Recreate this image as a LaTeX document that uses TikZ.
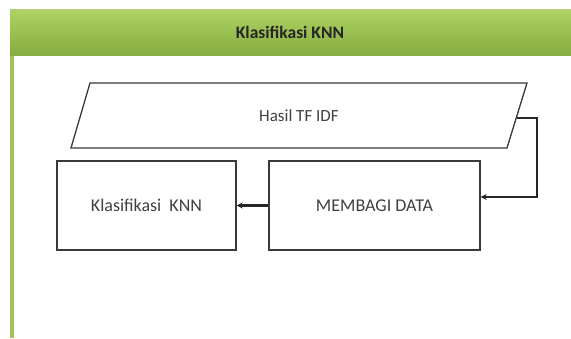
\documentclass[tikz,border=0pt]{standalone}
\usepackage{fontspec}
\setmainfont{Carlito}
\usetikzlibrary{arrows.meta,shapes.geometric}
\definecolor{gtop}{HTML}{AFD363}
\definecolor{gbot}{HTML}{86AD42}
\definecolor{gline}{HTML}{9CC458}
\definecolor{boxline}{HTML}{3A3A3A}
\tikzset{
  procbox/.style={draw=boxline, line width=1.3pt, fill=white, minimum width=179pt, minimum height=89pt, font=\fontsize{18}{20}\selectfont, text=black!75, inner sep=0pt},
  flow/.style={draw=black!85, line width=2.2pt, -{Stealth[length=6pt,width=6pt]}}
}
\begin{document}
\begin{tikzpicture}[x=1pt,y=-1pt]
\useasboundingbox (0,0) rectangle (571,338);
\fill[white] (0,0) rectangle (571,338);
% left border
\fill[gline] (10,55) rectangle (14,338);
% header
\shade[top color=gtop, bottom color=gbot] (10,9) rectangle (571,55);
\draw[gline!80!white, line width=1pt] (10,9.5) -- (571,9.5);
\node[font=\bfseries\fontsize{17.5}{20}\selectfont, text=black!85] (hdr) at (290,32) {Klasifikasi KNN};
% parallelogram
\coordinate (p1) at (90,83);
\coordinate (p2) at (527,83);
\coordinate (p3) at (507,148);
\coordinate (p4) at (71,148);
\draw[draw=boxline, line width=1.3pt, fill=white] (p1) -- (p2) -- (p3) -- (p4) -- cycle;
\node[font=\fontsize{17}{20}\selectfont, text=black!75] (tfidf) at (299,116) {Hasil TF IDF};
\coordinate (tfout) at (517,118);
% boxes
\node[procbox, minimum width=179pt] (knn) at (146.5,205.5) {Klasifikasi\ \ KNN};
\node[procbox, minimum width=211pt] (bagi) at (374.5,205.5) {MEMBAGI DATA};
% connectors
\draw[flow] (tfout) -- (537,118) -- (537,197) -- (bagi.east |- 0,197);
\draw[flow] (bagi.west) -- (knn.east);
\end{tikzpicture}
\end{document}
